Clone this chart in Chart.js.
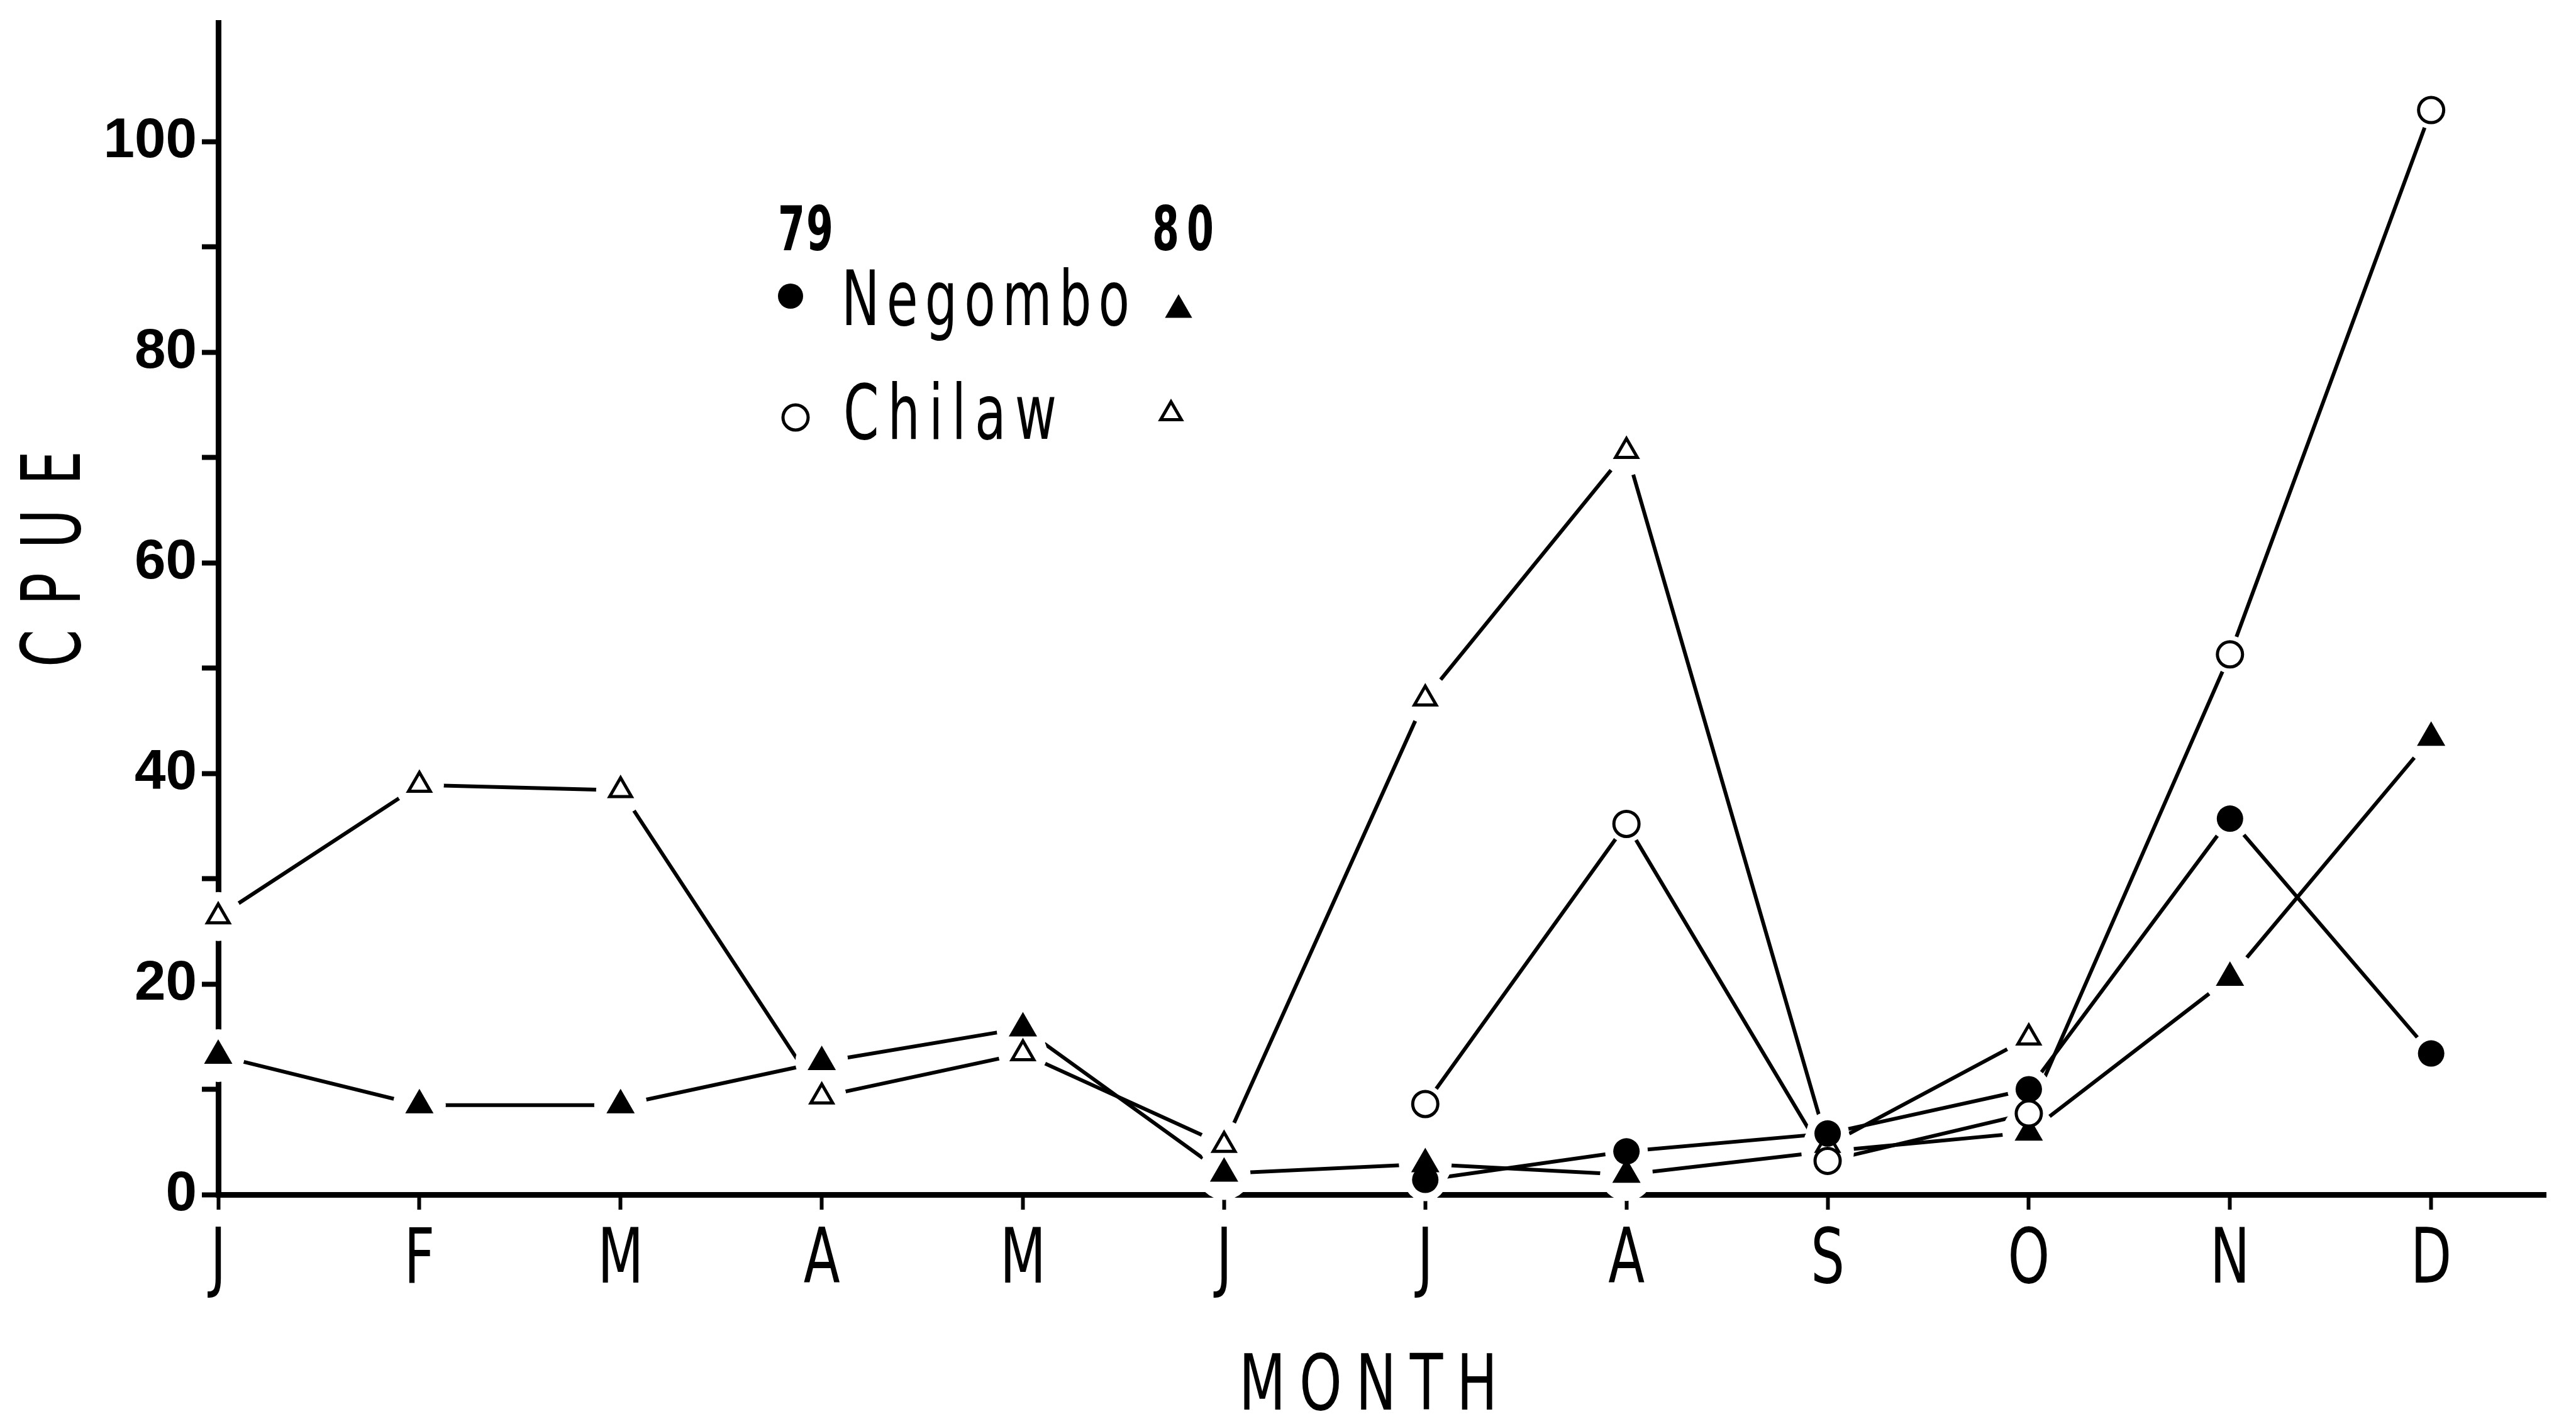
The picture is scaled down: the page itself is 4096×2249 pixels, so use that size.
<!DOCTYPE html>
<html>
<head>
<meta charset="utf-8">
<title>CPUE - Negombo / Chilaw</title>
<script src="https://cdn.jsdelivr.net/npm/chart.js@4.4.0/dist/chart.umd.min.js"></script>
<style>
  html, body { margin: 0; padding: 0; background: #fff; }
  canvas { display: block; }
</style>
</head>
<body>
<canvas id="cpueChart" width="4096" height="2249"></canvas>
<script>
// 월 라벨
const monthLabels = ['J', 'F', 'M', 'A', 'M', 'J', 'J', 'A', 'S', 'O', 'N', 'D'];

// 1979년 (7월부터 조사)
const negombo79 = [null, null, null, null, null, null, 1.4, 4.1, 5.8, 10.0, 35.7, 13.4];
const chilaw79 = [null, null, null, null, null, null, 8.6, 35.2, 3.2, 7.7, 51.3, 103.0];

// 1980년
const negombo80 = [13.2, 8.5, 8.5, 12.6, 15.8, 2.0, 2.9, 1.9, 4.1, 5.9, 20.6, 43.4];
const chilaw80 = [26.4, 38.9, 38.4, 9.3, 13.4, 4.7, 47.1, 70.6, 4.7, 14.9, null, null];

// y축 눈금
const yTickValues = [0, 10, 20, 30, 40, 50, 60, 70, 80, 90, 100];
const yLabelValues = [0, 20, 40, 60, 80, 100];

const X_MAX = 11.57;
const Y_MAX = 111.3;
const FONT = '"DejaVu Sans", sans-serif';

// null 은 건너뛰고 {x, y} 목록으로 변환
function toPoints(values) {
  const points = [];
  values.forEach((v, i) => {
    if (v !== null) points.push({ x: i, y: v });
  });
  return points;
}

// 시리즈별 마커 모양 (gap: 선이 마커 앞에서 끊기는 여백)
const seriesList = [
  { values: negombo80, pointStyle: 'triangle', radius: 26, fill: '#000', border: 0, gap: 16, layer: 0 },
  { values: chilaw80, pointStyle: 'triangle', radius: 20, fill: '#fff', border: 5, gap: 19, layer: 0 },
  { values: negombo79, pointStyle: 'circle', radius: 21, fill: '#000', border: 0, gap: 13, layer: 1 },
  { values: chilaw79, pointStyle: 'circle', radius: 20, fill: '#fff', border: 5, gap: 10, layer: 1 }
];

// 시리즈마다 선 데이터셋 + 마커 데이터셋
const datasets = [];
seriesList.forEach(s => {
  datasets.push({
    data: toPoints(s.values),
    borderColor: '#000',
    borderWidth: 6,
    pointRadius: 0,
    tension: 0,
    fill: false,
    clip: false
  });
  datasets.push({
    data: toPoints(s.values),
    showLine: false,
    pointStyle: s.pointStyle,
    pointRadius: s.radius,
    pointBackgroundColor: s.fill,
    pointBorderColor: '#000',
    pointBorderWidth: s.border,
    clip: false,
    haloGap: s.gap,
    layer: s.layer
  });
});

// 마커 둘레를 흰색으로 지워 선이 마커 앞에서 끊기게 하고 마커를 다시 올림
const markerHalo = {
  id: 'markerHalo',
  afterDatasetsDraw(chart) {
    const ctx = chart.ctx;
    const markers = [];
    chart.data.datasets.forEach((ds, i) => {
      if (ds.haloGap) markers.push({ ds, meta: chart.getDatasetMeta(i) });
    });

    ctx.save();
    ctx.fillStyle = '#fff';
    markers.forEach(({ ds, meta }) => {
      meta.data.forEach(pt => {
        ctx.beginPath();
        ctx.arc(pt.x, pt.y, ds.pointRadius + ds.haloGap, 0, Math.PI * 2);
        ctx.fill();
      });
    });
    ctx.restore();

    // 삼각형 먼저, 원은 그 위에
    markers
      .sort((a, b) => a.ds.layer - b.ds.layer)
      .forEach(({ meta }) => {
        meta.data.forEach(pt => pt.draw(ctx, chart.chartArea));
      });
  }
};

// 가로로 좁힌 글자 한 개 그리기
function drawNarrow(ctx, text, x, y, size, weight, sx, align) {
  ctx.save();
  ctx.font = `${weight} ${size}px ${FONT}`;
  ctx.textAlign = align;
  ctx.translate(x, y);
  ctx.scale(sx, 1);
  ctx.fillText(text, 0, 0);
  ctx.restore();
}

// 자간을 벌려 주어진 폭에 맞춰 그리기
function drawSpaced(ctx, text, x0, y, size, weight, sx, totalWidth) {
  ctx.save();
  ctx.font = `${weight} ${size}px ${FONT}`;
  ctx.textAlign = 'left';
  const chars = [...text];
  const widths = chars.map(c => ctx.measureText(c).width * sx);
  const sum = widths.reduce((a, b) => a + b, 0);
  const gap = chars.length > 1 ? (totalWidth - sum) / (chars.length - 1) : 0;
  let x = x0;
  chars.forEach((c, i) => {
    ctx.save();
    ctx.translate(x, y);
    ctx.scale(sx, 1);
    ctx.fillText(c, 0, 0);
    ctx.restore();
    x += widths[i] + gap;
  });
  ctx.restore();
}

// 범례 마커
function legendMarker(ctx, pointStyle, x, y, radius, fill, border) {
  ctx.save();
  ctx.fillStyle = fill;
  ctx.strokeStyle = '#000';
  ctx.lineWidth = border;
  Chart.helpers.drawPoint(ctx, { pointStyle, radius, borderWidth: border, rotation: 0 }, x, y);
  ctx.restore();
}

// 축 제목, 월 라벨, 범례
const paperText = {
  id: 'paperText',
  afterDraw(chart) {
    const ctx = chart.ctx;
    const xScale = chart.scales.x;
    ctx.save();
    ctx.fillStyle = '#000';
    ctx.textBaseline = 'alphabetic';

    monthLabels.forEach((m, i) => {
      drawNarrow(ctx, m, xScale.getPixelForValue(i), 2040, 121, 'normal', 0.7, 'center');
    });

    // x축 제목
    drawSpaced(ctx, 'MONTH', 1970, 2242, 123, 'normal', 0.7, 411);

    // y축 제목 (세로)
    ctx.save();
    ctx.translate(127, 1061);
    ctx.rotate(-Math.PI / 2);
    drawSpaced(ctx, 'CPUE', 0, 0, 130, 'normal', 0.66, 344);
    ctx.restore();

    // 범례
    drawSpaced(ctx, '79', 1237, 398, 98, 'bold', 0.63, 88);
    drawSpaced(ctx, '80', 1832, 398, 98, 'bold', 0.63, 98);
    legendMarker(ctx, 'circle', 1257, 471, 20, '#000', 0);
    drawSpaced(ctx, 'Negombo', 1338, 517, 121, 'normal', 0.67, 458);
    legendMarker(ctx, 'triangle', 1874, 493, 25, '#000', 0);
    legendMarker(ctx, 'circle', 1265, 664, 20, '#fff', 5);
    drawSpaced(ctx, 'Chilaw', 1341, 698, 121, 'normal', 0.67, 339);
    legendMarker(ctx, 'triangle', 1862, 658, 19, '#fff', 5);

    ctx.restore();
  }
};

Chart.defaults.color = '#000';

new Chart(document.getElementById('cpueChart').getContext('2d'), {
  type: 'line',
  data: { datasets },
  options: {
    responsive: false,
    animation: false,
    events: [],
    devicePixelRatio: 1,
    layout: {
      autoPadding: false,
      padding: { left: 0, top: 36, right: 48, bottom: 0 }
    },
    plugins: {
      legend: { display: false },
      tooltip: { enabled: false }
    },
    scales: {
      x: {
        type: 'linear',
        min: 0,
        max: X_MAX,
        z: 1,
        afterBuildTicks(scale) {
          scale.ticks = monthLabels.map((m, i) => ({ value: i }));
        },
        afterFit(scale) {
          scale.height = 349;
          scale.paddingLeft = 0;
          scale.paddingRight = 0;
        },
        ticks: { display: false, autoSkip: false },
        grid: {
          drawOnChartArea: false,
          drawTicks: true,
          tickLength: 24,
          tickWidth: 6,
          tickColor: '#000'
        },
        border: { display: true, color: '#000', width: 9 }
      },
      y: {
        type: 'linear',
        min: 0,
        max: Y_MAX,
        z: 1,
        afterBuildTicks(scale) {
          scale.ticks = yTickValues.map(v => ({ value: v }));
        },
        afterFit(scale) {
          scale.width = 347;
          scale.paddingTop = 0;
          scale.paddingBottom = 0;
        },
        ticks: {
          autoSkip: false,
          padding: 8,
          color: '#000',
          font: { family: '"Liberation Sans", Arial, sans-serif', size: 89, weight: 'bold' },
          callback: v => (yLabelValues.includes(v) ? String(v) : '')
        },
        grid: {
          drawOnChartArea: false,
          drawTicks: true,
          tickLength: 26,
          tickWidth: 8,
          tickColor: '#000'
        },
        border: { display: true, color: '#000', width: 9 }
      }
    }
  },
  plugins: [markerHalo, paperText]
});
</script>
</body>
</html>
